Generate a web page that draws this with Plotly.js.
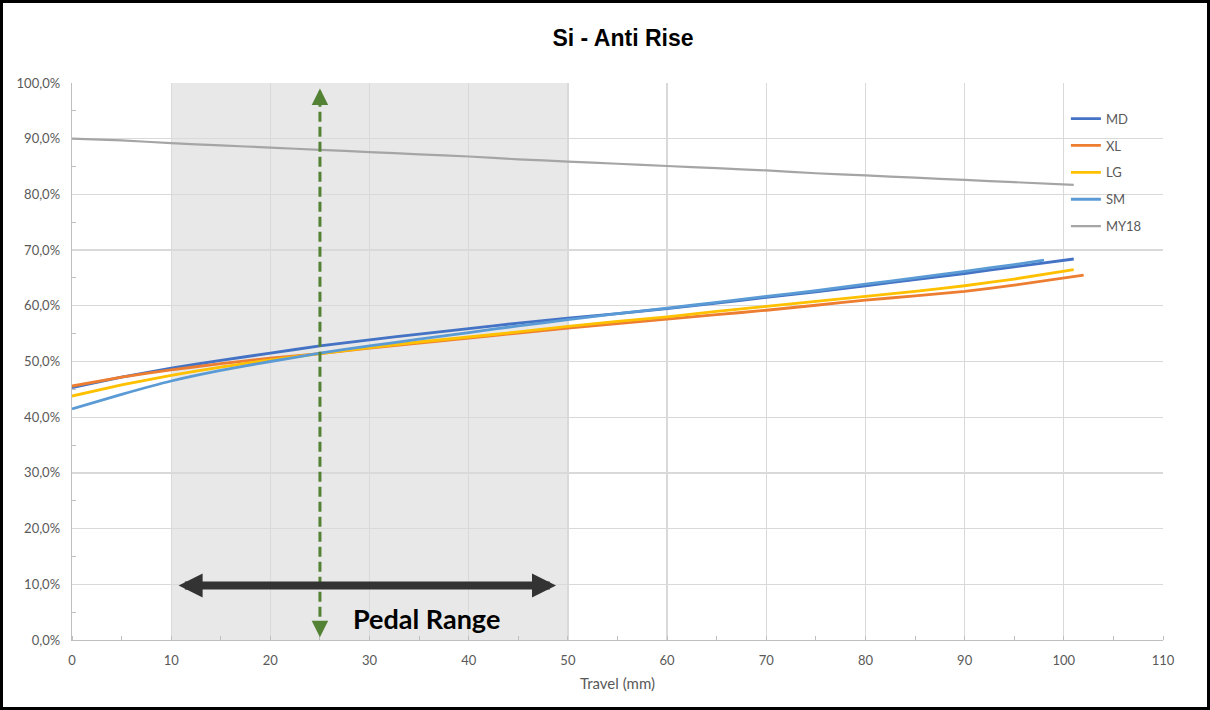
<!DOCTYPE html>
<html><head><meta charset="utf-8">
<script src="https://cdn.plot.ly/plotly-3.0.1.min.js"></script>
<style>
html,body{margin:0;padding:0;background:#fff;}
#frame{position:absolute;left:0;top:0;width:1210px;height:710px;box-sizing:border-box;border:3px solid #000;background:#fff;}
#chart{width:1204px;height:704px;}
</style></head>
<body><div id="frame"><div id="chart"></div></div>
<script>
// Data
const xMD = [0,5,10,15,20,25,30,35,40,45,50,55,60,65,70,75,80,85,90,95,101];
const yMD = [45.3,47.2,48.8,50.2,51.5,52.8,53.9,54.9,55.9,56.9,57.8,58.6,59.5,60.5,61.5,62.5,63.6,64.7,65.8,67.0,68.4];
const xXL = [0,5,10,15,20,25,30,35,40,45,50,55,60,65,70,75,80,85,90,95,102];
const yXL = [45.6,47.2,48.5,49.6,50.6,51.4,52.4,53.3,54.2,55.1,56.0,56.8,57.6,58.4,59.2,60.1,61.0,61.8,62.6,63.7,65.5];
const xLG = [0,5,10,15,20,25,30,35,40,45,50,55,60,65,70,75,80,85,90,95,101];
const yLG = [43.8,45.8,47.5,49.0,50.3,51.4,52.5,53.5,54.4,55.3,56.3,57.2,58.0,59.0,59.9,60.8,61.7,62.6,63.6,64.8,66.5];
const xSM = [0,5,10,15,20,25,30,35,40,45,50,55,60,65,70,75,80,85,90,95,98];
const ySM = [41.5,44.1,46.5,48.4,50.0,51.5,52.8,54.0,55.2,56.4,57.5,58.6,59.6,60.6,61.7,62.7,63.9,65.0,66.2,67.4,68.2];
const xMY18 = [0,5,10,15,20,25,30,35,40,45,50,55,60,65,70,75,80,85,90,95,101];
const yMY18 = [90.0,89.7,89.2,88.8,88.4,88.0,87.6,87.2,86.8,86.3,85.9,85.5,85.1,84.7,84.3,83.8,83.4,83.0,82.6,82.2,81.7];
const seriesNames = ['MD','XL','LG','SM','MY18'];
const seriesColors = ['#4472C4','#ED7D31','#FFC000','#5B9BD5','#A5A5A5'];
const pedalRange = [10, 50];
const pedalMark = 25;
const xTicks = [0,10,20,30,40,50,60,70,80,90,100,110];

const xs = [xMD,xXL,xLG,xSM,xMY18];
const ys = [yMD,yXL,yLG,ySM,yMY18];
const traces = seriesNames.map((n,i)=>({
  x: xs[i], y: ys[i], name: n, type:'scatter', mode:'lines',
  line:{color:seriesColors[i], width: i===4?2.2:2.8, shape:'spline', smoothing:0.4},
  legendgroup:'g'+i
}));

const layout = {
  width:1204, height:704,
  margin:{l:69, r:44, t:80, b:67},
  paper_bgcolor:'#fff', plot_bgcolor:'#fff',
  font:{family:'Lato, "Open Sans", sans-serif', color:'#595959', size:13},
  separators:',.',
  title:{text:'<b>Si - Anti Rise</b>', font:{family:'Liberation Sans, Arial, sans-serif', size:23, color:'#000'},
         x:(623-3)/1204, xref:'container', xanchor:'center', y:1-35/704, yref:'container', yanchor:'middle'},
  xaxis:{range:[0,110], tickvals:xTicks, showgrid:true, gridcolor:'#D9D9D9', gridwidth:1.3,
         zeroline:false, showline:true, linecolor:'#BFBFBF', linewidth:1.3, ticks:'',
         tickfont:{size:13, color:'#595959'}, ticklabelstandoff:8,
         minor:{dtick:5, ticks:'inside', ticklen:4, tickcolor:'#BFBFBF', showgrid:false},
         title:{text:'Travel (mm)', font:{size:15, color:'#595959'}, standoff:11}},
  yaxis:{range:[0,100], dtick:10, tickformat:'.1f', ticksuffix:'%', showgrid:true, gridcolor:'#D9D9D9', gridwidth:1.3,
         zeroline:false, showline:true, linecolor:'#BFBFBF', linewidth:1.3, ticks:'',
         tickfont:{size:13, color:'#595959'}, ticklabelstandoff:8,
         minor:{dtick:5, ticks:'inside', ticklen:4, tickcolor:'#BFBFBF', showgrid:false}},
  legend:{x:0.911, y:0.963, xanchor:'left', yanchor:'top', bgcolor:'rgba(0,0,0,0)',
          font:{size:13, color:'#595959'}, traceorder:'grouped', tracegroupgap:7, itemwidth:30},
  shapes:[
    {type:'rect', xref:'x', yref:'y', x0:pedalRange[0], x1:pedalRange[1], y0:0, y1:100,
     fillcolor:'#E8E8E8', line:{width:0}, layer:'below'},
    {type:'line', xref:'x', yref:'y', x0:pedalMark, x1:pedalMark, y0:1.5, y1:98.5,
     line:{color:'#548235', width:3, dash:'10px,5px'}, layer:'above'}
  ],
  annotations:[
    {xref:'x', yref:'y', axref:'x', ayref:'y', x:pedalMark, y:99, ax:pedalMark, ay:96,
     showarrow:true, arrowhead:2, arrowsize:1.1, arrowwidth:3, arrowcolor:'#548235', text:''},
    {xref:'x', yref:'y', axref:'x', ayref:'y', x:pedalMark, y:0.5, ax:pedalMark, ay:3.5,
     showarrow:true, arrowhead:2, arrowsize:1.1, arrowwidth:3, arrowcolor:'#548235', text:''},
    {xref:'x', yref:'y', axref:'x', ayref:'y', x:pedalRange[1]-1.2, y:9.8, ax:pedalRange[0]+0.6, ay:9.8,
     showarrow:true, arrowhead:2, arrowside:'end+start', arrowsize:0.6, arrowwidth:8, arrowcolor:'#333333', text:''},
    {xref:'x', yref:'y', x:35.7, y:3.9, text:'<b>Pedal Range</b>', showarrow:false,
     font:{family:'Lato, "Open Sans", sans-serif', size:27, color:'#000'}}
  ]
};
Plotly.newPlot('chart', traces, layout, {displayModeBar:false, staticPlot:true});
</script></body></html>
